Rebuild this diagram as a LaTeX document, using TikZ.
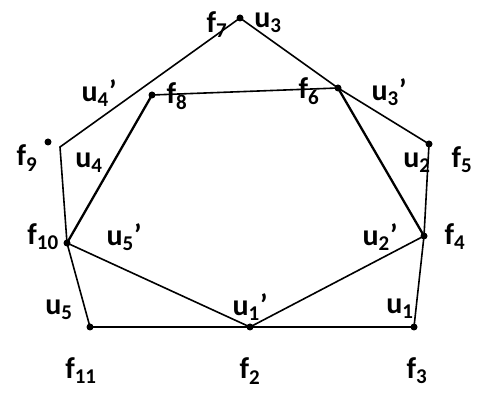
\documentclass[tikz,border=0pt]{standalone}
\usepackage{fontspec}
\setmainfont{Carlito}
\usetikzlibrary{positioning}

\begin{document}
\begin{tikzpicture}[
  x=1pt,y=-1pt,
  vertice/.style={circle,fill,inner sep=0pt,minimum size=7pt},
  rotulo/.style={font=\bfseries\fontsize{30}{32}\selectfont,inner sep=0pt},
  aresta/.style={line width=1.6pt},
  interna/.style={line width=2.3pt}
]
\useasboundingbox (0,0) rectangle (483,398);
% vertices
\node[vertice] (f7) at (240,18) {};
\node[vertice] (f8) at (152,95) {};
\node[vertice] (f6) at (338,88) {};
\node[vertice] (f9) at (48,142) {};
\node[vertice] (f5) at (429,144) {};
\node[vertice] (f10) at (67,243) {};
\node[vertice] (f4) at (424,236) {};
\node[vertice] (f11) at (90,327) {};
\node[vertice] (f2) at (250,327) {};
\node[vertice] (f3) at (414,327) {};
\coordinate (c9) at (60,147);
% contorno
\draw[aresta] (c9) -- (f7.center) -- (f6.center) -- (f5.center) -- (f4.center)
  -- (f3.center) -- (f11.center) -- (f10.center) -- cycle;
% pentagono interno
\draw[aresta] (f8.center) -- (f6.center);
\draw[interna] (f8.center) -- (f10.center);
\draw[interna] (f6.center) -- (f4.center);
\draw[aresta] (f10.center) -- (f2.center) -- (f4.center);
% rotulos
\node[rotulo] (lf7) at (217,25) {f\textsubscript{7}};
\node[rotulo] (lu3) at (268,23) {u\textsubscript{3}};
\node[rotulo] (lu4p) at (99,93) {u\textsubscript{4}’};
\node[rotulo] (lf8) at (177,96) {f\textsubscript{8}};
\node[rotulo] (lf6) at (309,91) {f\textsubscript{6}};
\node[rotulo] (lu3p) at (389,92) {u\textsubscript{3}’};
\node[rotulo] (lf9) at (27,158) {f\textsubscript{9}};
\node[rotulo] (lu4) at (89,163) {u\textsubscript{4}};
\node[rotulo] (lu2) at (417,163) {u\textsubscript{2}};
\node[rotulo] (lf5) at (462,160) {f\textsubscript{5}};
\node[rotulo] (lf10) at (43,237) {f\textsubscript{10}};
\node[rotulo] (lu5p) at (124,237) {u\textsubscript{5}’};
\node[rotulo] (lu2p) at (380,237) {u\textsubscript{2}’};
\node[rotulo] (lf4) at (455,237) {f\textsubscript{4}};
\node[rotulo] (lu5) at (59,310) {u\textsubscript{5}};
\node[rotulo] (lu1p) at (250,307) {u\textsubscript{1}’};
\node[rotulo] (lu1) at (400,309) {u\textsubscript{1}};
\node[rotulo] (lf11) at (81,371) {f\textsubscript{11}};
\node[rotulo] (lf2) at (250,371) {f\textsubscript{2}};
\node[rotulo] (lf3) at (417,371) {f\textsubscript{3}};
\end{tikzpicture}
\end{document}
